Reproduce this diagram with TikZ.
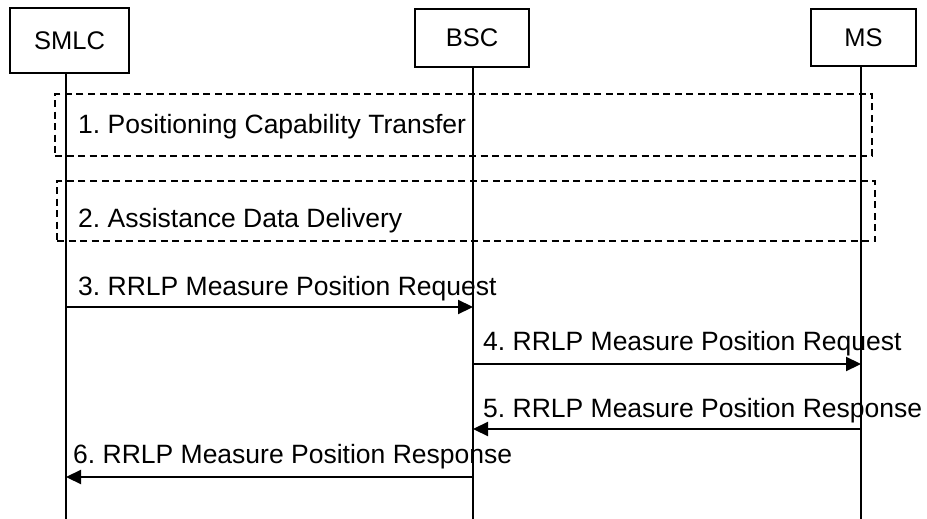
\documentclass[tikz,border=0pt]{standalone}
\usepackage{fontspec}
\setmainfont{Liberation Sans}
\usetikzlibrary{arrows.meta}
\frenchspacing
\begin{document}
\begin{tikzpicture}[x=1pt,y=-1pt,
  entity/.style={draw,line width=1.3pt,inner sep=0pt,font=\fontsize{25.5}{30}\selectfont},
  lifeline/.style={line width=1.1pt},
  grp/.style={draw,line width=1.6pt,dash pattern=on 7pt off 4.5pt,inner sep=0pt},
  lbl/.style={anchor=base west,inner sep=0pt,font=\fontsize{26.5}{30}\selectfont},
  msg/.style={line width=2.2pt,-{Triangle[length=15pt,width=14pt]}}]
\useasboundingbox (0,0) rectangle (927,519);
% entities
\node[entity,minimum width=119pt,minimum height=65pt] (smlc) at (69.5,40.5) {SMLC};
\node[entity,minimum width=114pt,minimum height=58pt] (bsc) at (472,38) {BSC};
\node[entity,minimum width=105pt,minimum height=57pt] (ms) at (863.5,37.5) {MS};
% lifeline ends
\coordinate (sl) at (66,519);
\coordinate (bl) at (473,519);
\coordinate (ml) at (861,519);
\draw[lifeline] (smlc.south -| sl) -- (sl);
\draw[lifeline] (bsc.south -| bl) -- (bl);
\draw[lifeline] (ms.south -| ml) -- (ml);
% groups
\node[grp,minimum width=817pt,minimum height=62pt] (g1) at (463.5,125) {};
\node[lbl] (t1) at (78,133) {1. Positioning Capability Transfer};
\node[grp,minimum width=818pt,minimum height=60pt] (g2) at (466,211) {};
\node[lbl] (t2) at (78,227) {2. Assistance Data Delivery};
% message end points
\coordinate (m3a) at (66,307);  \coordinate (m3b) at (473,307);
\coordinate (m4a) at (472,364); \coordinate (m4b) at (861,364);
\coordinate (m5a) at (861,429); \coordinate (m5b) at (473,429);
\coordinate (m6a) at (473,477); \coordinate (m6b) at (66,477);
\draw[msg] (m3a) -- (m3b);
\draw[msg] (m4a) -- (m4b);
\draw[msg] (m5a) -- (m5b);
\draw[msg] (m6a) -- (m6b);
\node[lbl] (t3) at (78,295) {3. RRLP Measure Position Request};
\node[lbl] (t4) at (483,350) {4. RRLP Measure Position Request};
\node[lbl] (t5) at (483,417) {5. RRLP Measure Position Response};
\node[lbl] (t6) at (73,463) {6. RRLP Measure Position Response};
\end{tikzpicture}
\end{document}
